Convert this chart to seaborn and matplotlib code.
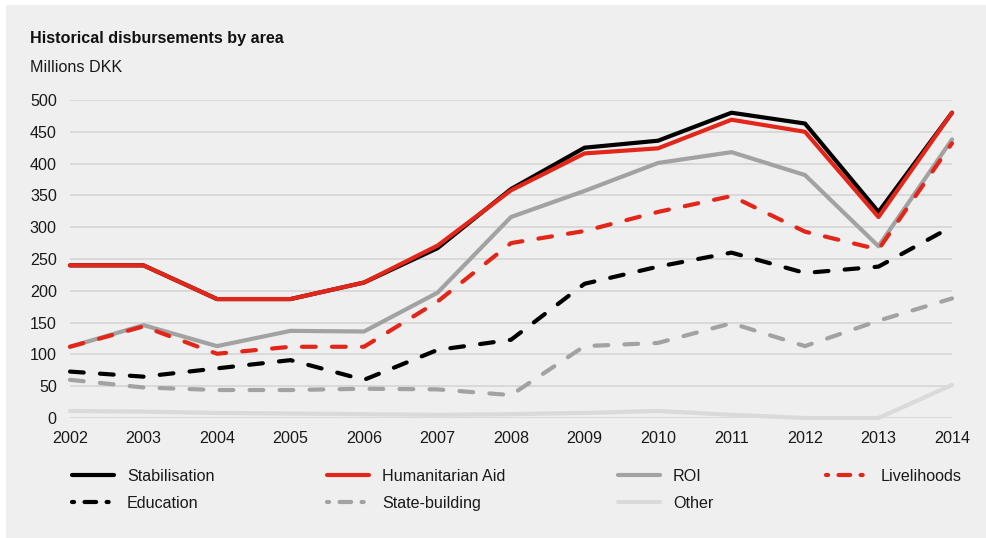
import matplotlib
matplotlib.use("Agg")
import matplotlib.pyplot as plt
from matplotlib.patches import Rectangle
from matplotlib.lines import Line2D
import seaborn as sns
import pandas as pd

# Disbursements, millions DKK
years = [2002, 2003, 2004, 2005, 2006, 2007, 2008, 2009, 2010, 2011, 2012, 2013, 2014]
stabilisation = [240, 240, 187, 187, 213, 267, 360, 425, 436, 480, 463, 324, 480]
humanitarian_aid = [240, 240, 187, 187, 213, 271, 358, 416, 424, 469, 450, 316, 480]
roi = [112, 146, 113, 137, 136, 197, 316, 357, 401, 418, 382, 270, 438]
livelihoods = [112, 144, 101, 112, 112, 183, 275, 294, 324, 349, 293, 265, 432]
education = [73, 65, 78, 91, 60, 107, 123, 211, 238, 260, 228, 238, 301]
state_building = [60, 48, 44, 44, 46, 45, 36, 113, 118, 149, 113, 153, 188]
other = [11, 10, 8, 7, 6, 5, 6, 8, 11, 5, 0, 0, 52]
y_ticks = [0, 50, 100, 150, 200, 250, 300, 350, 400, 450, 500]

RED = "#e3261a"
GREY = "#a2a2a2"
LIGHT = "#dadada"
PANEL = "#efefef"
DASH = (0, (3.3, 3.9))
# short-long-short pattern for the dashed legend keys
KEY_DASH = (0, (0.5, 2.5, 2.8, 2.5, 0.5, 10))

sns.set_theme(style="white")
plt.rcParams["font.family"] = ["Liberation Sans", "DejaVu Sans"]
FS = 11.6

W, H = 987, 538
fig = plt.figure(figsize=(W / 100, H / 100), dpi=100, facecolor="white")
fig.patches.append(Rectangle((6 / W, 0), 1 - 6 / W, 1 - 5 / H,
                             transform=fig.transFigure, facecolor=PANEL,
                             edgecolor="none", zorder=-5))

ax = fig.add_axes([70 / W, 120 / H, 882 / W, 318 / H])
ax.set_facecolor("none")

df = pd.DataFrame({"year": years})
# (label, values, colour, linestyle), listed bottom-to-top in drawing order
series = [
    ("Other", other, LIGHT, "-"),
    ("State-building", state_building, GREY, DASH),
    ("Education", education, "black", DASH),
    ("ROI", roi, GREY, "-"),
    ("Livelihoods", livelihoods, RED, DASH),
    ("Stabilisation", stabilisation, "black", "-"),
    ("Humanitarian Aid", humanitarian_aid, RED, "-"),
]
LW = 3.0
for i, (label, vals, col, ls) in enumerate(series):
    df[label] = vals
    sns.lineplot(data=df, x="year", y=label, ax=ax, color=col, linestyle=ls,
                 linewidth=LW, solid_capstyle="round", dash_capstyle="round",
                 solid_joinstyle="round", dash_joinstyle="round",
                 clip_on=False, zorder=3 + i)

ax.set_xlim(2002, 2014)
ax.set_ylim(0, 500)
ax.set_xticks(years)
ax.set_xticklabels([str(y) for y in years])
ax.set_yticks(y_ticks)
ax.set_xlabel("")
ax.set_ylabel("")
ax.grid(axis="y", color="#d7d7d7", linewidth=1.3, zorder=1)
ax.grid(axis="x", visible=False)
for s in ax.spines.values():
    s.set_visible(False)
ax.tick_params(axis="both", length=0, labelsize=FS, colors="#1a1a1a")
ax.tick_params(axis="y", pad=9.5)
ax.tick_params(axis="x", pad=9.5)

fig.text(30.5 / W, 1 - 43 / H, "Historical disbursements by area",
         fontsize=FS, fontweight="bold", color="#111111", va="baseline")
fig.text(30.5 / W, 1 - 72.5 / H, "Millions DKK",
         fontsize=FS, color="#1a1a1a", va="baseline")

style = {label: (col, ls) for label, _, col, ls in series}
order = ["Stabilisation", "Education", "Humanitarian Aid", "State-building",
         "ROI", "Other", "Livelihoods"]
handles = [Line2D([0], [0], color=style[k][0],
                  linestyle=("-" if style[k][1] == "-" else KEY_DASH),
                  linewidth=LW, solid_capstyle="round", dash_capstyle="round")
           for k in order]
fig.legend(handles, order, loc="upper left", bbox_to_anchor=(72 / W, 1 - 469 / H),
           ncol=4, frameon=False, fontsize=FS, borderpad=0, borderaxespad=0,
           handlelength=2.6, handletextpad=0.8, columnspacing=7.0,
           labelspacing=0.75, labelcolor="#1a1a1a")

fig.savefig("out.png", dpi=100, facecolor="white")
